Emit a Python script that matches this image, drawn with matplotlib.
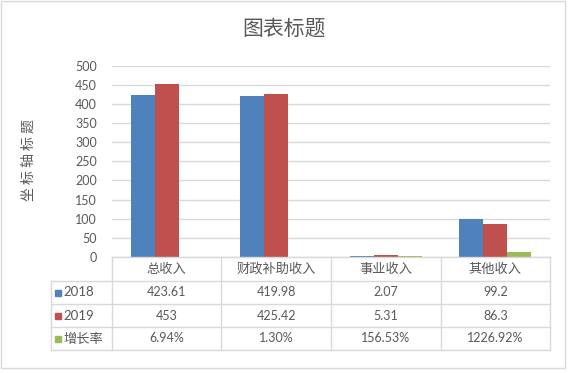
import matplotlib
matplotlib.use("Agg")
import matplotlib.pyplot as plt
from matplotlib.patches import Rectangle
import numpy as np

plt.rcParams['font.family'] = ['Lato', 'Noto Sans CJK SC', 'DejaVu Sans']

categories = ['总收入', '财政补助收入', '事业收入', '其他收入']
series_names = ['2018', '2019', '增长率']
v2018 = [423.61, 419.98, 2.07, 99.2]
v2019 = [453, 425.42, 5.31, 86.3]
growth = [0.0694, 0.0130, 1.5653, 12.2692]
growth_labels = ['6.94%', '1.30%', '156.53%', '1226.92%']
label2018 = ['423.61', '419.98', '2.07', '99.2']
label2019 = ['453', '425.42', '5.31', '86.3']
yticks = [0, 50, 100, 150, 200, 250, 300, 350, 400, 450, 500]
title = '图表标题'
ylabel = '坐 标 轴 标 题'

colors = ['#4F81BD', '#C0504D', '#9BBB59']
text_c = '#595959'
grid_c = '#D9D9D9'

W, H = 568, 373
fig = plt.figure(figsize=(W / 100, H / 100), dpi=100)

def fx(px):
    return px / W

def fy(py):
    return 1 - py / H

# main plot area
pl, pr, pt, pb = 112, 550, 65.7, 257
ax = fig.add_axes([fx(pl), fy(pb), fx(pr - pl), fy(pt) - fy(pb)])
x = np.arange(len(categories))
bw = 0.22
for i, vals in enumerate([v2018, v2019, growth]):
    ax.bar(x + (i - 1) * bw, vals, width=bw, color=colors[i], zorder=3)
ax.set_xlim(-0.5, len(categories) - 0.5)
ax.set_ylim(0, 500)
ax.set_yticks(yticks)
ax.set_yticklabels([str(t) for t in yticks], color=text_c, fontsize=9)
ax.tick_params(axis='y', length=0, pad=11)
ax.set_xticks([])
ax.grid(axis='y', color=grid_c, linewidth=1, zorder=0)
for s in ax.spines.values():
    s.set_visible(False)

# title
fig.text(fx(284), fy(29), title, ha='center', va='center', fontsize=15,
         color=text_c, family=['Noto Sans CJK SC'])
# y label
fig.text(fx(29), fy(160), ylabel, ha='center', va='center', rotation=90,
         fontsize=10, color=text_c, family=['Noto Sans CJK SC'])

# data table
tl, tr, tt, tb = 51, 550, 257, 350
tab = fig.add_axes([fx(tl), fy(tb), fx(tr - tl), fy(tt) - fy(tb)])
cw = (pr - pl) / len(categories)
leg_w = (pl - tl) / cw
x0 = -0.5 - leg_w
tab.set_xlim(x0, len(categories) - 0.5)
row_edges = [0, 24, 47, 70, 93]
tab.set_ylim(row_edges[-1], row_edges[0])
tab.axis('off')

lc = grid_c
lw = 1
# horizontal lines
tab.plot([-0.5, len(categories) - 0.5], [row_edges[0]] * 2, color=lc, lw=lw, clip_on=False)
for r in row_edges[1:]:
    tab.plot([x0, len(categories) - 0.5], [r, r], color=lc, lw=lw, clip_on=False)
# vertical lines
for c in range(len(categories) + 1):
    tab.plot([c - 0.5, c - 0.5], [row_edges[0], row_edges[-1]], color=lc, lw=lw, clip_on=False)
tab.plot([x0, x0], [row_edges[1], row_edges[-1]], color=lc, lw=lw, clip_on=False)

def rc(i):
    return (row_edges[i] + row_edges[i + 1]) / 2

for j, cat in enumerate(categories):
    tab.text(j, rc(0), cat, ha='center', va='center', fontsize=9.5, color=text_c,
             family=['Noto Sans CJK SC'])
rows = [label2018, label2019, growth_labels]
for i, labels in enumerate(rows):
    for j, lab in enumerate(labels):
        tab.text(j, rc(i + 1), lab, ha='center', va='center', fontsize=9, color=text_c)
    tab.plot([x0 + 0.06], [rc(i + 1)], marker='s', markersize=5, color=colors[i],
             linestyle='none', clip_on=False)
    tab.text(x0 + 0.11, rc(i + 1), series_names[i], ha='left', va='center',
             fontsize=9.5, color=text_c)

# chart border
fig.add_artist(Rectangle((fx(1), fy(368)), fx(564), fy(1) - fy(368),
                         transform=fig.transFigure, fill=False,
                         edgecolor=grid_c, linewidth=1))

fig.savefig('out.png', dpi=100)
